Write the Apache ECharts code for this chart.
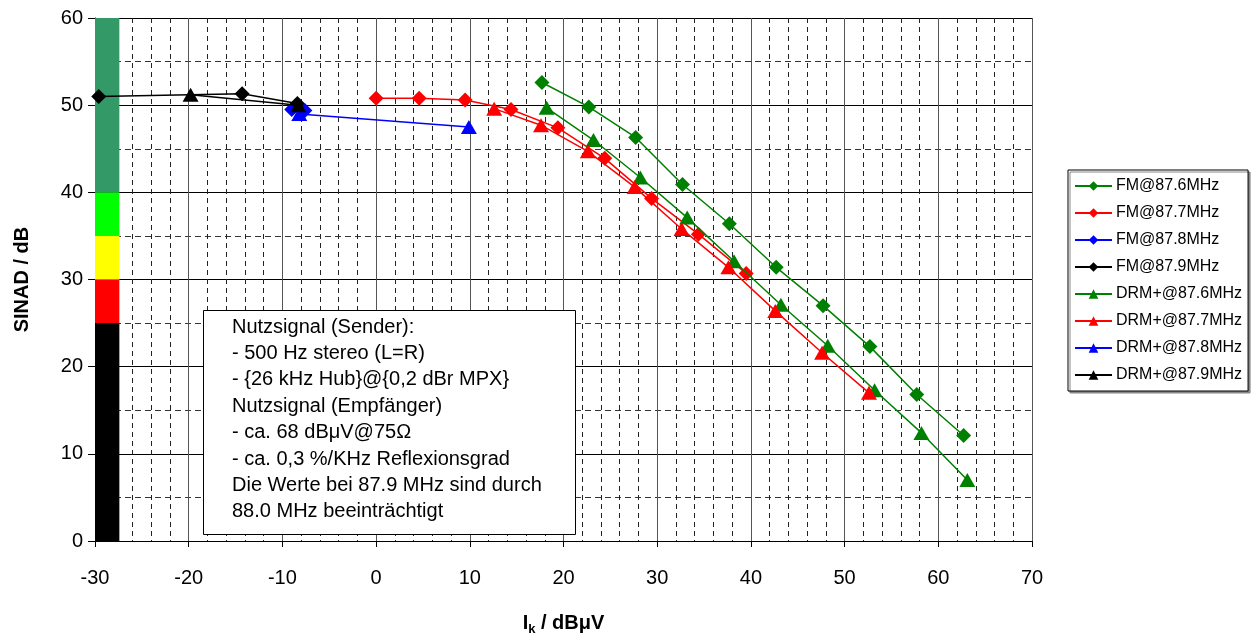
<!DOCTYPE html>
<html><head><meta charset="utf-8">
<script src="https://cdn.jsdelivr.net/npm/echarts@6/dist/echarts.min.js"></script>
<style>html,body{margin:0;padding:0;background:#fff}#c{width:1253px;height:633px}</style>
</head><body><div id="c"></div>
<script>
// ---- data ----
const xTicks = [-30, -20, -10, 0, 10, 20, 30, 40, 50, 60, 70];
const yTicks = [0, 10, 20, 30, 40, 50, 60];

const fm876X = [17.7, 22.7, 27.7, 32.7, 37.7, 42.7, 47.7, 52.7, 57.7, 62.7];
const fm876Y = [52.6, 49.8, 46.3, 40.9, 36.4, 31.4, 27.0, 22.3, 16.8, 12.1];
const fm877X = [0.0, 4.6, 9.5, 14.4, 19.4, 24.4, 29.4, 34.4, 39.5];
const fm877Y = [50.8, 50.8, 50.6, 49.5, 47.4, 43.9, 39.3, 35.2, 30.7];
const fm878X = [-9.0, -7.6];
const fm878Y = [49.5, 49.4];
const fm879X = [-29.6, -14.3, -8.4];
const fm879Y = [51.0, 51.3, 50.2];

const drm876X = [18.2, 23.2, 28.2, 33.2, 38.2, 43.2, 48.2, 53.2, 58.2, 63.1];
const drm876Y = [49.7, 46.0, 41.7, 37.1, 32.1, 27.1, 22.4, 17.3, 12.4, 7.0];
const drm877X = [12.6, 17.6, 22.6, 27.6, 32.6, 37.6, 42.6, 47.6, 52.6];
const drm877Y = [49.6, 47.7, 44.7, 40.6, 35.8, 31.4, 26.4, 21.6, 17.0];
const drm878X = [-8.2, 9.9];
const drm878Y = [49.0, 47.5];
const drm879X = [-19.8, -8.3];
const drm879Y = [51.2, 50.0];

const seriesNames = ['FM@87.6MHz','FM@87.7MHz','FM@87.8MHz','FM@87.9MHz',
                     'DRM+@87.6MHz','DRM+@87.7MHz','DRM+@87.8MHz','DRM+@87.9MHz'];
const seriesColors = ['#008000','#ff0000','#0000ff','#000000','#008000','#ff0000','#0000ff','#000000'];
const seriesX = [fm876X, fm877X, fm878X, fm879X, drm876X, drm877X, drm878X, drm879X];
const seriesY = [fm876Y, fm877Y, fm878Y, fm879Y, drm876Y, drm877Y, drm878Y, drm879Y];

// quality band at the left edge (SINAD ranges)
const bandX = [-30, -27.4];
const bandLow  = [0, 25, 30, 35, 40];
const bandHigh = [25, 30, 35, 40, 60];
const bandColors = ['#000000', '#ff0000', '#ffff00', '#00ff00', '#339966'];

const noteLines = [
  'Nutzsignal (Sender):',
  '- 500 Hz stereo (L=R)',
  '- {26 kHz Hub}@{0,2 dBr MPX}',
  'Nutzsignal (Empfänger)',
  '- ca. 68 dBμV@75Ω',
  '- ca. 0,3 %/KHz Reflexionsgrad',
  'Die Werte bei 87.9 MHz sind durch',
  '88.0 MHz beeinträchtigt'
];

// ---- chart ----
const FONT = '"Liberation Sans", Arial, sans-serif';
const zip = (xs, ys) => xs.map((x, i) => [x, ys[i]]);

const series = seriesNames.map((name, i) => ({
  name, type: 'line',
  data: zip(seriesX[i], seriesY[i]),
  symbol: i < 4 ? 'diamond' : 'triangle',
  symbolSize: i < 4 ? [15, 15] : [16, 14],
  color: seriesColors[i],
  lineStyle: { width: 1.5, color: seriesColors[i] },
  itemStyle: { color: seriesColors[i] },
  z: 3 + i,
  animation: false
}));

series.unshift({
  name: 'band', type: 'line', data: [], silent: true, animation: false,
  markArea: {
    silent: true,
    data: bandLow.map((lo, i) => [
      { xAxis: bandX[0], yAxis: lo, itemStyle: { color: bandColors[i], opacity: 1 } },
      { xAxis: bandX[1], yAxis: bandHigh[i] }
    ])
  }
});

const chart = echarts.init(document.getElementById('c'), null, { renderer: 'canvas' });
chart.setOption({
  animation: false,
  backgroundColor: '#fff',
  textStyle: { fontFamily: FONT },
  grid: { left: 95, right: 221, top: 18, bottom: 92, containLabel: false, outerBoundsMode: 'none' },
  xAxis: {
    type: 'value', min: xTicks[0], max: xTicks[xTicks.length - 1], interval: 10,
    name: '{a|I}{s|k}{a| / dBμV}', nameLocation: 'middle', nameGap: 70,
    nameTextStyle: { rich: {
      a: { fontFamily: FONT, fontSize: 20, fontWeight: 'bold', color: '#000' },
      s: { fontFamily: FONT, fontSize: 13, fontWeight: 'bold', color: '#000', verticalAlign: 'bottom', padding: [12, 0, 0, 0] }
    } },
    axisLine: { show: true, onZero: false, lineStyle: { color: '#000', width: 1 } },
    axisTick: { show: true, length: 6, lineStyle: { color: '#000' } },
    axisLabel: { fontSize: 20, color: '#000', fontFamily: FONT, margin: 27 },
    splitLine: { show: true, lineStyle: { color: '#555', width: 1 } },
    minorTick: { show: false, splitNumber: 5 },
    minorSplitLine: { show: true, lineStyle: { color: '#222', width: 1, type: [5, 4] } }
  },
  yAxis: {
    type: 'value', min: yTicks[0], max: yTicks[yTicks.length - 1], interval: 10,
    name: 'SINAD / dB', nameLocation: 'middle', nameGap: 63, nameRotate: 90,
    nameTextStyle: { fontSize: 20, fontWeight: 'bold', color: '#000', fontFamily: FONT },
    axisLine: { show: true, onZero: false, lineStyle: { color: '#000', width: 1 } },
    axisTick: { show: true, length: 7, lineStyle: { color: '#000' } },
    axisLabel: { fontSize: 20, color: '#000', fontFamily: FONT, margin: 12 },
    splitLine: { show: true, lineStyle: { color: '#000', width: 1 } },
    minorTick: { show: false, splitNumber: 2 },
    minorSplitLine: { show: true, lineStyle: { color: '#333', width: 1, type: [6, 4] } }
  },
  legend: {
    data: seriesNames,
    orient: 'vertical', left: 1068, top: 170,
    width: 178,
    padding: [8, 6, 8, 6],
    itemWidth: 37, itemHeight: 12, itemGap: 11,
    borderColor: '#000', borderWidth: 1,
    backgroundColor: '#fff',
    shadowColor: '#888', shadowOffsetX: 2, shadowOffsetY: 2, shadowBlur: 0,
    textStyle: { fontSize: 16, color: '#000', fontFamily: FONT, padding: [0, 0, 0, -1] },
    selectedMode: false
  },
  graphic: [
    { type: 'rect', left: 203, top: 310, z: 100, zlevel: 0,
      shape: { x: 0, y: 0, width: 372, height: 224 },
      style: { fill: '#ffffff', stroke: '#000', lineWidth: 1 } },
    ...noteLines.map((t, i) => ({
      type: 'text', left: 232, top: 317 + i * 26.4, z: 101,
      style: { text: t, fill: '#000', font: '20px ' + FONT }
    }))
  ],
  series
});
</script></body></html>
